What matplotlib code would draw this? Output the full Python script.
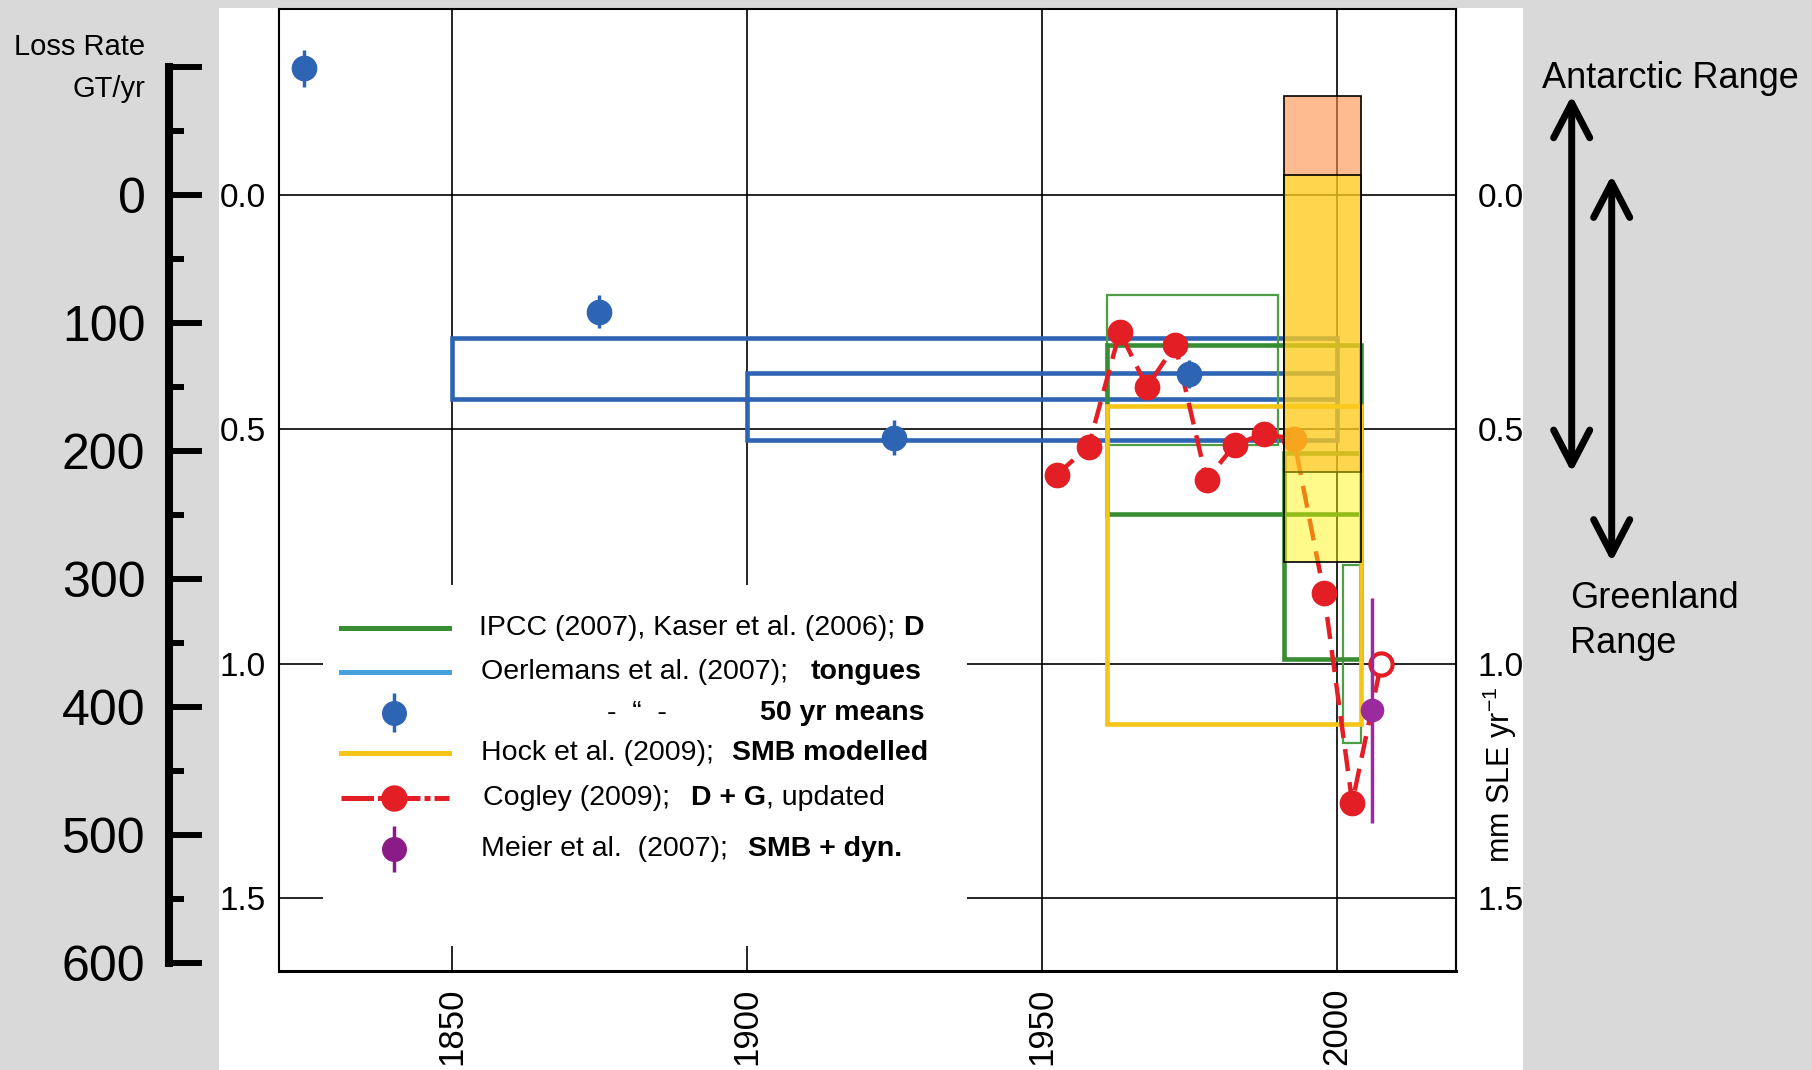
import matplotlib
matplotlib.use("Agg")
import matplotlib.pyplot as plt
from matplotlib.patches import Rectangle

plt.rcParams["font.family"] = ["Liberation Sans", "DejaVu Sans"]
plt.rcParams["mathtext.fontset"] = "custom"
plt.rcParams["mathtext.rm"] = "Liberation Sans"
plt.rcParams["mathtext.bf"] = "Liberation Sans:bold"

# ---------------- data: glacier loss rates, mm SLE per year ----------------
oer_mean_year = [1825, 1875, 1925, 1975]
oer_mean_rate = [-0.27, 0.249, 0.518, 0.382]
oer_mean_err = [0.04, 0.036, 0.038, 0.03]

oer_tongue_start = [1850, 1900]
oer_tongue_end = [2000, 2000]
oer_tongue_low = [0.305, 0.381]
oer_tongue_high = [0.435, 0.524]

ipcc_start = [1961, 1991]
ipcc_end = [2004, 2004]
ipcc_low = [0.32, 0.55]
ipcc_high = [0.68, 0.99]

kaser_start = [1961, 2001]
kaser_end = [1990, 2004]
kaser_low = [0.213, 0.79]
kaser_high = [0.533, 1.17]

hock_start, hock_end = 1961, 2004
hock_low, hock_high = 0.45, 1.13

cogley_year = [1952.5, 1957.9, 1963.2, 1967.8, 1972.6, 1977.9,
               1982.7, 1987.6, 1992.7, 1997.8, 2002.6]
cogley_rate = [0.597, 0.537, 0.292, 0.410, 0.320, 0.608,
               0.533, 0.510, 0.521, 0.849, 1.297]
cogley_recent_year = 2007.5
cogley_recent_rate = 1.0

meier_year = 2006
meier_rate = 1.10
meier_err = 0.24

range_start, range_end = 1991, 2004
antarctic_range = (-0.212, 0.592)
greenland_range = (-0.042, 0.783)

year_ticks = [1850, 1900, 1950, 2000]
sle_ticks = [0.0, 0.5, 1.0, 1.5]
gt_major = list(range(-100, 601, 100))
gt_minor = list(range(-50, 551, 100))
GT_PER_MM = 366

# ---------------- colours ----------------
BLUE = "#2e64b4"
LIGHT_BLUE = "#45a2de"
GREEN = "#388c32"
GREEN_THIN = "#4f9e45"
GOLD = "#f5c518"
RED = "#e31e25"
PURPLE = "#9b2a9e"
PURPLE_DARK = "#8b1c87"

# ---------------- figure layout (pixel helpers) ----------------
W, H, DPI = 1812, 1070, 100
fig = plt.figure(figsize=(W / DPI, H / DPI), dpi=DPI, facecolor="#d9d9d9")


def fx(px):
    return px / W


def fy(py):
    return 1 - py / H


# white panel behind the chart
fig.add_artist(Rectangle((fx(219), 0), fx(1523) - fx(219), fy(8),
                         transform=fig.transFigure, facecolor="white",
                         edgecolor="none", zorder=-10))

L, R, T, B = 278.5, 1455.5, 9.3, 971
ax = fig.add_axes([fx(L), fy(B), fx(R) - fx(L), fy(T) - fy(B)])
ax.set_facecolor("white")
ax.set_xlim(1820.6, 2020.1)
ax.set_ylim(1.656, -0.396)

ax.set_xticks(year_ticks)
ax.set_xticklabels([str(y) for y in year_ticks], rotation=90)
ax.set_yticks(sle_ticks)
ax.set_yticklabels([f"{v:.1f}" for v in sle_ticks])
ax.tick_params(axis="both", length=0)
ax.tick_params(axis="x", pad=12, labelsize=25)
ax.tick_params(axis="y", pad=9, labelsize=24)
ax.set_axisbelow(True)
ax.grid(True, color="black", lw=1.2)
for side in ["left", "top", "right"]:
    ax.spines[side].set_linewidth(1.5)
ax.spines["bottom"].set_linewidth(2.2)

sec = ax.secondary_yaxis("right")
sec.set_yticks(sle_ticks)
sec.set_yticklabels([f"{v:.1f}" for v in sle_ticks])
sec.tick_params(length=0, pad=16, labelsize=24)
sec.spines["right"].set_visible(False)

# Oerlemans glacier-tongue ranges
for s, e, lo, hi in zip(oer_tongue_start, oer_tongue_end, oer_tongue_low, oer_tongue_high):
    ax.add_patch(Rectangle((s, lo), e - s, hi - lo, fill=False,
                           edgecolor=BLUE, lw=3.3, zorder=2))

# Kaser (thin) and IPCC (thick) estimates
for s, e, lo, hi in zip(kaser_start, kaser_end, kaser_low, kaser_high):
    ax.add_patch(Rectangle((s, lo), e - s, hi - lo, fill=False,
                           edgecolor=GREEN_THIN, lw=1.6, zorder=2.1))
for s, e, lo, hi in zip(ipcc_start, ipcc_end, ipcc_low, ipcc_high):
    ax.add_patch(Rectangle((s, lo), e - s, hi - lo, fill=False,
                           edgecolor=GREEN, lw=3.3, zorder=2.2))

# Hock SMB model range
ax.add_patch(Rectangle((hock_start, hock_low), hock_end - hock_start,
                       hock_high - hock_low, fill=False, edgecolor=GOLD,
                       lw=3.3, zorder=2.3))

# Cogley pentadal series
ax.plot(cogley_year + [cogley_recent_year], cogley_rate + [cogley_recent_rate],
        color=RED, lw=3.2, ls=(0, (5, 2.5)), zorder=3)
ax.plot(cogley_year, cogley_rate, "o", color=RED, ms=17.5, zorder=3.5)
ax.plot([cogley_recent_year], [cogley_recent_rate], "o", mfc="white",
        mec=RED, mew=3, ms=16, zorder=3.5)

# Oerlemans 50-yr means
ax.errorbar(oer_mean_year, oer_mean_rate, yerr=oer_mean_err, fmt="o",
            color=BLUE, ms=17.5, elinewidth=2.5, capsize=0, zorder=4)

# Meier estimate
ax.errorbar([meier_year], [meier_rate], yerr=[meier_err], fmt="o",
            color=PURPLE, ms=16, elinewidth=2.5, capsize=0, zorder=4)

# ice-sheet ranges (translucent overlays)
ax.add_patch(Rectangle((range_start, antarctic_range[0]), range_end - range_start,
                       antarctic_range[1] - antarctic_range[0],
                       facecolor=(0.988, 0.557, 0.267, 0.6),
                       edgecolor="black", lw=1.2, zorder=5))
ax.add_patch(Rectangle((range_start, greenland_range[0]), range_end - range_start,
                       greenland_range[1] - greenland_range[0],
                       facecolor=(1.0, 0.965, 0.0, 0.46),
                       edgecolor="black", lw=1.2, zorder=5.1))

# range arrows at the right
arrow_kw = dict(arrowstyle="<->,head_length=1.25,head_width=0.65", lw=5,
                color="black", shrinkA=0, shrinkB=0, mutation_scale=20)
for xpix, rng in [(1571.7, antarctic_range), (1611.7, greenland_range)]:
    ax.annotate("", xy=(fx(xpix), rng[0]), xytext=(fx(xpix), rng[1]),
                xycoords=("figure fraction", "data"),
                textcoords=("figure fraction", "data"),
                arrowprops=arrow_kw, annotation_clip=False)

fig.text(fx(1541.7), fy(88), "Antarctic Range", fontsize=26, ha="left", va="baseline")
fig.text(fx(1570), fy(598.6), "Greenland", fontsize=26, ha="left", va="center")
fig.text(fx(1570), fy(643.7), "Range", fontsize=26, ha="left", va="center")

fig.text(fx(1500), fy(775), "mm SLE yr$^{-1}$", rotation=90, fontsize=22,
         ha="center", va="center")

# ---------------- loss-rate scale (GT/yr) ----------------
axg = fig.add_axes([fx(169), fy(B), 0.0005, fy(T) - fy(B)])
axg.set_ylim(1.656 * GT_PER_MM, -0.396 * GT_PER_MM)
axg.patch.set_visible(False)
for side in ["top", "right", "bottom"]:
    axg.spines[side].set_visible(False)
axg.spines["left"].set_linewidth(5.8)
axg.spines["left"].set_bounds(gt_major[0], gt_major[-1])
axg.set_xticks([])
axg.set_yticks(gt_major)
axg.set_yticklabels(["" if v < 0 else str(v) for v in gt_major])
axg.set_yticks(gt_minor, minor=True)
axg.tick_params(axis="y", which="major", direction="in", length=24,
                width=4.3, pad=17, labelsize=36)
axg.tick_params(axis="y", which="minor", direction="in", length=11, width=4.3)

fig.text(fx(145), fy(47), "Loss Rate", fontsize=21, ha="right", va="center")
fig.text(fx(145), fy(89), "GT/yr", fontsize=21, ha="right", va="center")

# ---------------- legend ----------------
LX0, LX1, LY0, LY1 = 322.7, 967, 585, 946
axl = fig.add_axes([fx(LX0), fy(LY1), fx(LX1) - fx(LX0), fy(LY0) - fy(LY1)])
axl.set_xlim(LX0, LX1)
axl.set_ylim(LY1, LY0)
axl.set_facecolor("white")
for sp in axl.spines.values():
    sp.set_visible(False)
axl.set_xticks([])
axl.set_yticks([])

rows_y = [628.3, 671.7, 712.7, 752.7, 798.3, 849.3]
hx0, hx1, hxm = 341, 448.7, 393.8
FS = 20.5

axl.plot([hx0, hx1], [rows_y[0]] * 2, color=GREEN, lw=3.6)
axl.plot([hx0, hx1], [rows_y[1]] * 2, color=LIGHT_BLUE, lw=3.6)
axl.errorbar([hxm], [rows_y[2]], yerr=[19.5], fmt="o", color=BLUE, ms=17,
             elinewidth=2.5, capsize=0)
axl.plot([hx0, hx1], [rows_y[3]] * 2, color=GOLD, lw=3.6)
axl.plot([hx0, hx1], [rows_y[4]] * 2, color=RED, lw=3.6,
         ls=(0, (6.5, 0.8, 1.2, 0.8)))
axl.plot([hxm], [rows_y[4]], "o", color=RED, ms=18)
axl.errorbar([hxm], [rows_y[5]], yerr=[23], fmt="o", color=PURPLE_DARK, ms=17,
             elinewidth=2.5, capsize=0)

legend_text = [
    (0, 478.6, "IPCC (2007), Kaser et al. (2006);", "normal"),
    (0, 902.7, "D", "bold"),
    (1, 480.8, "Oerlemans et al. (2007);", "normal"),
    (1, 811.0, "tongues", "bold"),
    (2, 607.0, "-  \u201c  -", "normal"),
    (2, 760.0, "50 yr means", "bold"),
    (3, 480.8, "Hock et al. (2009);", "normal"),
    (3, 732.0, "SMB modelled", "bold"),
    (4, 483.0, "Cogley (2009);", "normal"),
    (4, 690.6, "D + G", "bold"),
    (4, 766.5, ", updated", "normal"),
    (5, 480.8, "Meier et al.  (2007);", "normal"),
    (5, 747.8, "SMB + dyn.", "bold"),
]
for row, xpix, txt, weight in legend_text:
    axl.text(xpix, rows_y[row], txt, fontsize=FS, fontweight=weight,
             ha="left", va="center")

fig.savefig("out.png", dpi=DPI, facecolor=fig.get_facecolor())
